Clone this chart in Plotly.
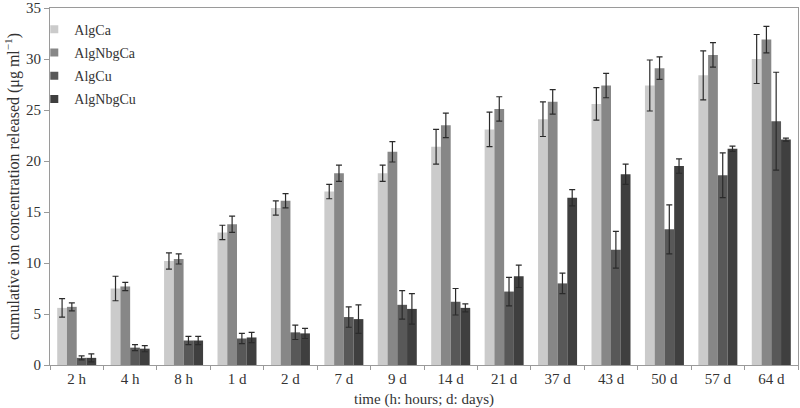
import plotly.graph_objects as go

# ── Data ─────────────────────────────────────────────────────────────────────
times = ["2 h", "4 h", "8 h", "1 d", "2 d", "7 d", "9 d", "14 d", "21 d",
         "37 d", "43 d", "50 d", "57 d", "64 d"]

alg_ca       = [5.6, 7.5, 10.2, 13.0, 15.4, 17.0, 18.8, 21.4, 23.1, 24.1, 25.6, 27.4, 28.4, 30.0]
alg_ca_err   = [0.9, 1.2, 0.8, 0.7, 0.7, 0.7, 0.8, 1.7, 1.7, 1.7, 1.6, 2.5, 2.4, 2.4]

alg_nbg_ca     = [5.7, 7.7, 10.4, 13.8, 16.1, 18.8, 20.9, 23.5, 25.1, 25.8, 27.4, 29.1, 30.4, 31.9]
alg_nbg_ca_err = [0.4, 0.4, 0.5, 0.8, 0.7, 0.8, 1.0, 1.2, 1.2, 1.2, 1.2, 1.1, 1.2, 1.3]

alg_cu       = [0.7, 1.7, 2.4, 2.6, 3.2, 4.7, 5.9, 6.2, 7.2, 8.0, 11.3, 13.3, 18.6, 23.9]
alg_cu_err   = [0.2, 0.3, 0.4, 0.5, 0.7, 1.0, 1.4, 1.3, 1.4, 1.0, 1.8, 2.4, 2.2, 4.8]

alg_nbg_cu     = [0.7, 1.6, 2.4, 2.7, 3.1, 4.5, 5.5, 5.6, 8.7, 16.4, 18.7, 19.5, 21.2, 22.1]
alg_nbg_cu_err = [0.4, 0.3, 0.4, 0.5, 0.5, 1.4, 1.5, 0.4, 1.1, 0.8, 1.0, 0.7, 0.25, 0.15]

series = [
    ("AlgCa",    alg_ca,     alg_ca_err,     "#cbcbcb"),
    ("AlgNbgCa", alg_nbg_ca, alg_nbg_ca_err, "#878787"),
    ("AlgCu",    alg_cu,     alg_cu_err,     "#585858"),
    ("AlgNbgCu", alg_nbg_cu, alg_nbg_cu_err, "#3f3f3f"),
]

FONT = "Liberation Serif, Times New Roman, serif"
TXT = "#333333"
AXIS = "#9a9a9a"

# ── Figure ───────────────────────────────────────────────────────────────────
fig = go.Figure()

for name, vals, errs, color in series:
    fig.add_trace(go.Bar(
        x=times, y=vals, name=name, legendgroup=name, showlegend=False,
        marker=dict(color=color, line=dict(width=0)),
        error_y=dict(type="data", array=errs, visible=True,
                     color="#2b2b2b", thickness=1.2, width=3),
    ))
    # small square legend key, like the reference
    fig.add_trace(go.Scatter(
        x=[None], y=[None], mode="markers", name=name, legendgroup=name,
        marker=dict(symbol="square", size=8, color=color),
    ))

fig.update_layout(
    width=800, height=408,
    barmode="group", bargap=0.27, bargroupgap=0,
    plot_bgcolor="white", paper_bgcolor="white",
    font=dict(family=FONT, size=15, color=TXT),
    margin=dict(l=50, r=2, t=8, b=43),
    legend=dict(x=-0.021, y=0.984, xanchor="left", yanchor="top",
                bgcolor="rgba(0,0,0,0)", font=dict(size=14, color=TXT),
                itemwidth=30, tracegroupgap=2),
    xaxis=dict(
        title=dict(text="time (h: hours; d: days)", standoff=8,
                   font=dict(size=15)),
        automargin=False,
        showline=True, linecolor=AXIS, linewidth=1, mirror=True,
        ticks="outside", tickson="boundaries", ticklen=4, tickcolor=AXIS,
        showgrid=False, tickfont=dict(size=15),
    ),
    yaxis=dict(
        title=dict(text="cumulative ion concentration released (μg ml<sup>−1</sup>)",
                   standoff=2, font=dict(size=16)),
        automargin=False,
        range=[0, 35], dtick=5,
        showline=True, linecolor=AXIS, linewidth=1, mirror=True,
        ticks="outside", ticklen=5, tickcolor=AXIS,
        showgrid=False, zeroline=False, tickfont=dict(size=15),
    ),
)

fig.write_html("out.html", config={"displayModeBar": False},
               post_script="document.body.style.margin='0';")
